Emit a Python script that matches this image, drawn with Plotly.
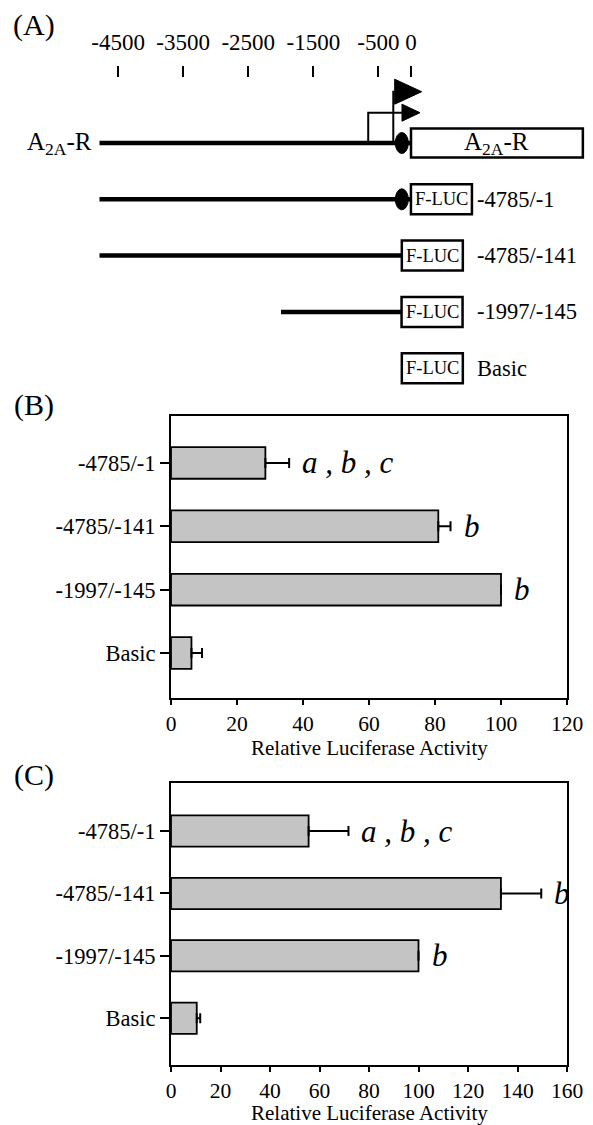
import plotly.graph_objects as go

# ---------------- data ----------------
# Panel A: promoter map (positions in bp relative to the translation start)
map_tick_bp = [-4500, -3500, -2500, -1500, -500, 0]
map_tick_text = ["-4500", "-3500", "-2500", "-1500", "-500", "0"]

gene_label = "A<sub>2A</sub>-R"
gene_upstream_start = -4785
gene_exon_start = 0
gene_exon_end = 2640
element_bp = -141                 # black oval element
tss_bp = [-657, -272]             # transcription start sites (bent arrows)
tss_tip_bp = [138, 164]

construct_names = ["-4785/-1", "-4785/-141", "-1997/-145", "Basic"]
construct_start = [-4785, -4785, -1997, None]
construct_end = [-1, -141, -145, None]
construct_has_element = [True, False, False, False]
basic_box_bp = -141

# Panels B and C: relative luciferase activity
bar_labels = ["-4785/-1", "-4785/-141", "-1997/-145", "Basic"]
b_values = [28.6, 81.0, 100.0, 6.2]
b_errors = [7.2, 3.7, 0.0, 3.2]
c_values = [55.6, 133.3, 100.0, 10.4]
c_errors = [16.1, 16.3, 0.0, 1.4]
sig_letters = ["a , b , c", "b", "b", ""]
b_ticks = [0, 20, 40, 60, 80, 100, 120]
c_ticks = [0, 20, 40, 60, 80, 100, 120, 140, 160]
x_title = "Relative Luciferase Activity"

# ---------------- geometry / style ----------------
W, H = 593, 1125
FONT = "Liberation Serif, Times New Roman, serif"
PX0, PX1 = 171, 567
B_TOP, B_BOT = 416, 698
C_TOP, C_BOT = 783, 1065
A_TOP, A_BOT = 78, 395
ZERO_PX = 411.0
PX_PER_BP = 0.0651
ROW0_PX, ROW_STEP = 143.0, 56.3
TSS_LEVEL_PX = [112.7, 91.7]
HEAD_LEN = [18, 27]
HEAD_H = [17, 25]
BOX_W = 61
LINE_W = 4.5
GRAY = "#c4c4c4"
TXT = 22.5


def ydom(top, bot):
    return [1 - bot / H, 1 - top / H]


def px_to_row(px):
    return (px - ROW0_PX) / ROW_STEP


a_xrange = [-ZERO_PX / PX_PER_BP, (W - ZERO_PX) / PX_PER_BP]
a_yrange = [px_to_row(A_BOT), px_to_row(A_TOP)]

fig = go.Figure()

# ---------- Panel A ----------
rows_construct = [1, 2, 3, 4]
lx, ly = [gene_upstream_start, gene_exon_start, None], [0, 0, None]
for r, s, e in zip(rows_construct, construct_start, construct_end):
    if s is not None:
        lx += [s, e, None]
        ly += [r, r, None]
fig.add_trace(go.Scatter(x=lx, y=ly, mode="lines", line=dict(color="black", width=LINE_W),
                         xaxis="x3", yaxis="y3", hoverinfo="skip", showlegend=False))

# bent arrows (TSS)
for bp, tip, lvl_px, hl, hh in zip(tss_bp, tss_tip_bp, TSS_LEVEL_PX, HEAD_LEN, HEAD_H):
    lvl = px_to_row(lvl_px)
    base = tip - hl / PX_PER_BP
    fig.add_trace(go.Scatter(x=[bp, bp, base], y=[px_to_row(ROW0_PX - 2), lvl, lvl], mode="lines",
                             line=dict(color="black", width=2), xaxis="x3", yaxis="y3",
                             hoverinfo="skip", showlegend=False))
    dh = (hh / 2) / ROW_STEP
    fig.add_trace(go.Scatter(x=[base, tip, base, base], y=[lvl - dh, lvl, lvl + dh, lvl - dh],
                             mode="lines", fill="toself", fillcolor="black",
                             line=dict(color="black", width=1), xaxis="x3", yaxis="y3",
                             hoverinfo="skip", showlegend=False))

shapes = []
# gene exon box
shapes.append(dict(type="rect", xref="x3", yref="y3", x0=gene_exon_start, x1=gene_exon_end,
                   ysizemode="pixel", yanchor=0, y0=-14.5, y1=14.5,
                   line=dict(color="black", width=2.5), fillcolor="white"))
# black element ovals
for r, has in zip([0] + rows_construct, [True] + construct_has_element):
    if has:
        shapes.append(dict(type="circle", xref="x3", yref="y3",
                           xsizemode="pixel", xanchor=element_bp, x0=-6.5, x1=6.5,
                           ysizemode="pixel", yanchor=r, y0=-10.5, y1=10.5,
                           line=dict(color="black", width=1), fillcolor="black"))
# F-LUC boxes
box_anchor = [e if e is not None else basic_box_bp for e in construct_end]
annotations = []
for r, a, name in zip(rows_construct, box_anchor, construct_names):
    shapes.append(dict(type="rect", xref="x3", yref="y3",
                       xsizemode="pixel", xanchor=a, x0=0, x1=BOX_W,
                       ysizemode="pixel", yanchor=r, y0=-15, y1=15,
                       line=dict(color="black", width=2.5), fillcolor="white"))
    annotations.append(dict(x=a, y=r, xref="x3", yref="y3", text="F-LUC", showarrow=False,
                            xanchor="center", yanchor="middle", xshift=BOX_W / 2,
                            font=dict(family=FONT, size=18.5, color="black")))
    annotations.append(dict(x=a, y=r, xref="x3", yref="y3", text=name, showarrow=False,
                            xanchor="left", yanchor="middle", xshift=(475 - ZERO_PX) - a * PX_PER_BP,
                            font=dict(family=FONT, size=TXT, color="black")))

annotations.append(dict(x=(gene_exon_start + gene_exon_end) / 2, y=0, xref="x3", yref="y3",
                        text=gene_label, showarrow=False, xanchor="center", yanchor="middle",
                        font=dict(family=FONT, size=25, color="black")))
annotations.append(dict(x=gene_upstream_start, y=0, xref="x3", yref="y3", text=gene_label,
                        showarrow=False, xanchor="right", yanchor="middle", xshift=-6,
                        font=dict(family=FONT, size=25, color="black")))

# ---------- Panels B and C ----------
for vals, errs, xa, ya in [(b_values, b_errors, "x", "y"), (c_values, c_errors, "x2", "y2")]:
    fig.add_trace(go.Bar(orientation="h", x=vals, y=bar_labels, xaxis=xa, yaxis=ya, width=0.5,
                         marker=dict(color=GRAY, line=dict(color="black", width=1.8)),
                         error_x=dict(type="data", array=errs, arrayminus=[0] * len(errs),
                                      symmetric=False, color="black", thickness=2, width=5),
                         hoverinfo="skip", showlegend=False))
    for v, e, lab, let in zip(vals, errs, bar_labels, sig_letters):
        if let:
            annotations.append(dict(x=v + e, y=lab, xref=xa, yref=ya, text="<i>" + let + "</i>",
                                    showarrow=False, xanchor="left", yanchor="middle", xshift=11,
                                    font=dict(family=FONT, size=31, color="black")))

# x-axis titles (placed as paper annotations so the lower one is not pushed upward)
for ypx in [748, 1113]:
    annotations.append(dict(x=(PX0 + PX1) / 2 / W, y=1 - ypx / H, xref="paper", yref="paper",
                            text=x_title, showarrow=False, xanchor="center", yanchor="middle",
                            font=dict(family=FONT, size=21, color="black")))

# panel letters
for txt, ypx in [("(A)", 25), ("(B)", 405), ("(C)", 775)]:
    annotations.append(dict(x=34 / W, y=1 - ypx / H, xref="paper", yref="paper", text=txt,
                            showarrow=False, xanchor="center", yanchor="middle",
                            font=dict(family=FONT, size=30, color="black")))

common_x = dict(showline=True, mirror=True, linecolor="black", linewidth=2, ticks="outside",
                ticklen=5, tickwidth=2, tickcolor="black", showgrid=False, zeroline=False,
                tickfont=dict(family=FONT, size=21.5, color="black"))
common_y = dict(type="category", categoryorder="array", categoryarray=bar_labels,
                showline=True, mirror=True, linecolor="black", linewidth=2, ticks="outside",
                ticklen=9, tickwidth=2, tickcolor="black", showgrid=False, zeroline=False,
                tickfont=dict(family=FONT, size=TXT, color="black"))

fig.update_layout(
    width=W, height=H, margin=dict(l=0, r=0, t=0, b=0, autoexpand=False),
    paper_bgcolor="white", plot_bgcolor="rgba(0,0,0,0)",
    xaxis=dict(domain=[PX0 / W, PX1 / W], range=[0, 120], tickvals=b_ticks, anchor="y", **common_x),
    yaxis=dict(domain=ydom(B_TOP, B_BOT), range=[3.71, -0.74], anchor="x", **common_y),
    xaxis2=dict(domain=[PX0 / W, PX1 / W], range=[0, 160], tickvals=c_ticks, anchor="y2", **common_x),
    yaxis2=dict(domain=ydom(C_TOP, C_BOT), range=[3.75, -0.77], anchor="x2", **common_y),
    xaxis3=dict(domain=[0, 1], range=a_xrange, anchor="y3", side="top", showline=False,
                showgrid=False, zeroline=False, ticks="outside", ticklen=11, tickwidth=2,
                tickcolor="black", tickvals=map_tick_bp, ticktext=map_tick_text,
                ticklabelstandoff=7, tickfont=dict(family=FONT, size=23, color="black")),
    yaxis3=dict(domain=ydom(A_TOP, A_BOT), range=a_yrange, anchor="x3", visible=False),
    shapes=shapes, annotations=annotations,
)

fig.write_html("out.html", config={"displayModeBar": False},
               post_script="document.body.style.margin='0px';")
